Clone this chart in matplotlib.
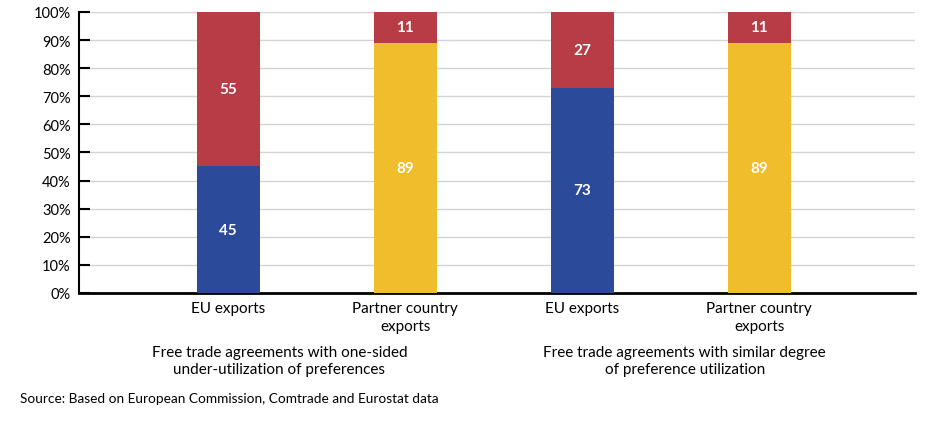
import matplotlib
matplotlib.use("Agg")
import matplotlib.pyplot as plt
import numpy as np

categories = ["EU exports", "Partner country\nexports", "EU exports", "Partner country\nexports"]
groups = ["Free trade agreements with one-sided\nunder-utilization of preferences",
          "Free trade agreements with similar degree\nof preference utilization"]
lower_vals = [45, 89, 73, 89]
upper_vals = [55, 11, 27, 11]
lower_colors = ["#2B4A9A", "#F0BE2C", "#2B4A9A", "#F0BE2C"]
upper_color = "#B83C45"
source = "Source: Based on European Commission, Comtrade and Eurostat data"

plt.rcParams["font.family"] = ["Lato", "DejaVu Sans"]

fig = plt.figure(figsize=(9.39, 4.31), dpi=100)
ax = fig.add_axes([0.0841, 0.318, 0.8903, 0.652])

x = np.arange(len(categories))
w = 0.356
ax.bar(x, lower_vals, width=w, color=lower_colors, zorder=3)
ax.bar(x, upper_vals, width=w, bottom=lower_vals, color=upper_color, zorder=3)

for xi, lo, up in zip(x, lower_vals, upper_vals):
    ax.text(xi, lo / 2, f"{lo}", ha="center", va="center", color="white",
            fontsize=11, fontweight="bold", zorder=4)
    ax.text(xi, lo + up / 2, f"{up}", ha="center", va="center", color="white",
            fontsize=11, fontweight="bold", zorder=4)

ax.set_xlim(-0.842, 3.88)
ax.set_ylim(0, 100)
ax.set_yticks(np.arange(0, 101, 10))
ax.set_yticklabels([f"{v}%" for v in range(0, 101, 10)], fontsize=10.5)
ax.yaxis.grid(True, color="#d4d4d4", linewidth=1.0, zorder=0)
ax.tick_params(axis="y", direction="in", length=8, width=1.5, pad=6)
ax.tick_params(axis="x", length=0, pad=6)
ax.set_xticks(x)
ax.set_xticklabels(categories, fontsize=11, linespacing=1.3)
for s in ["top", "right"]:
    ax.spines[s].set_visible(False)
ax.spines["left"].set_linewidth(1.5)
ax.spines["bottom"].set_linewidth(2)

# group captions sit a little left of the pair centres, as in the original
for gx, label in zip([0.29, 2.58], groups):
    ax.text(gx, -0.185, label, transform=ax.get_xaxis_transform(), ha="center",
            va="top", fontsize=11, linespacing=1.3)

fig.text(20 / 939, 1 - 399 / 431, source, ha="left", va="center", fontsize=9.8)

fig.savefig("out.png", dpi=100)
